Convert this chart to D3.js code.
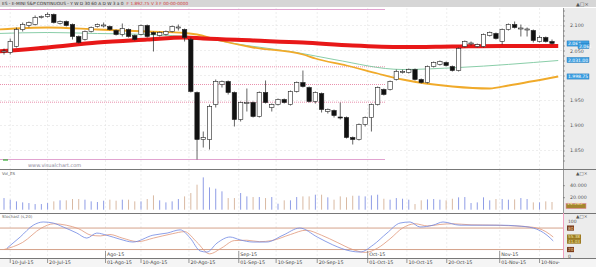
<!DOCTYPE html>
<html>
<head>
<meta charset="utf-8">
<script src="https://cdn.jsdelivr.net/npm/d3@7"></script>
<style>
  body { margin: 0; background: #fff; }
  svg { display: block; font-family: "DejaVu Sans", sans-serif; }
</style>
</head>
<body>
<script>
// daily candles, ES continuous
const open = [2047,2046,2058,2092,2100,2102,2116,2118,2122,2104,
  2108,2102,2078,2072,2088,2098,2100,2098,2090,2082,
  2092,2080,2082,2100,2086,2080,2082,2088,2096,2092,
  2072,1966,1872,1872,1942,1982,1988,1966,1912,1945,
  1946,1918,1966,1936,1942,1952,1942,1968,1986,1976,
  1948,1964,1928,1930,1917,1916,1876,1872,1902,1916,
  1942,1972,1972,1992,2007,2006,2012,1992,1986,2018,
  2022,2026,2018,2010,2058,2064,2058,2058,2080,2084,
  2068,2092,2102,2094,2092,2090,2068,2076,2068];
const close = [2049,2068,2092,2102,2106,2116,2118,2122,2106,2108,
  2100,2078,2066,2088,2096,2102,2101,2092,2082,2094,
  2078,2072,2100,2078,2082,2086,2088,2098,2097,2076,
  1968,1872,1876,1938,1988,1988,1966,1912,1946,1946,
  1918,1966,1946,1942,1952,1946,1968,1986,1978,1948,
  1966,1932,1932,1920,1916,1876,1872,1902,1916,1942,
  1976,1962,1988,2008,2008,2012,1992,1986,2018,2026,
  2028,2020,2010,2054,2068,2065,2062,2082,2086,2074,
  2092,2102,2096,2095,2093,2070,2076,2068,2064];
const high = [2054,2074,2096,2106,2108,2120,2120,2126,2124,2110,
  2110,2104,2080,2090,2098,2104,2106,2100,2092,2104,
  2094,2082,2102,2102,2088,2088,2090,2100,2102,2094,
  2076,1968,1888,1942,1992,1990,1990,1968,1948,1974,
  1948,1968,1990,1944,1954,1954,1970,1988,2010,1978,
  1968,1966,1934,1932,1946,1918,1878,1904,1918,1944,
  1978,1974,1990,2012,2012,2014,2014,1994,2020,2028,
  2030,2028,2020,2056,2070,2068,2064,2084,2088,2086,
  2094,2104,2108,2102,2096,2092,2080,2078,2072];
const low = [2042,2042,2056,2088,2096,2100,2114,2116,2104,2102,
  2098,2072,2064,2070,2086,2096,2096,2090,2080,2078,
  2076,2070,2080,2076,2048,2078,2080,2086,2090,2068,
  1966,1832,1856,1852,1936,1976,1962,1898,1908,1928,
  1916,1916,1944,1928,1940,1944,1940,1966,1976,1946,
  1944,1926,1924,1916,1912,1874,1862,1870,1898,1888,
  1940,1960,1970,1990,2004,2004,1990,1984,1984,2016,
  2020,2018,2008,2008,2056,2060,2056,2056,2078,2072,
  2062,2090,2094,2078,2078,2066,2066,2066,2062];
// volume in contracts
const volume = [19400,16700,13900,12200,11100,9400,9400,11100,13900,15600,
  15600,17800,17800,16700,13900,12800,15000,16700,15000,16700,
  16700,13900,13900,17800,23900,15600,12200,13900,17800,22200,
  27800,41700,53900,37200,35000,30600,19400,19400,27800,22200,
  21100,21100,19400,21100,10000,15600,15600,21100,22200,
  22200,25000,25000,20600,16700,22200,20600,23300,23300,22200,
  23900,25000,18300,16700,19400,18300,16700,9400,15600,17200,
  17800,16700,15600,18300,20600,21100,11100,12200,20600,15600,
  17800,17800,16700,17200,19400,17800,12200,12200,13900,12800].slice(0, 89);

// moving averages: [candle index, price]
const ma200 = [[-1,2048],[7,2056],[15,2066],[23,2072],[29,2076],[32,2074],[40,2070],[48,2066],[56,2060],[64,2057],[72,2058],[80,2059],[89,2059]];
const ma100 = [[-1,2084],[7,2086],[15,2084],[23,2082],[31,2076],[39,2060],[47,2046],[53,2032],[64,2012],[73,2016],[89,2030]];
const ma50  = [[-1,2092],[7,2096],[15,2092],[23,2088],[29,2085],[31,2082],[34,2072],[40,2056],[48,2042],[50,2034],[55,2020],[60,2004],[64,1992],[72,1978],[78,1974],[81,1980],[89,1998]];

// stochastic %K / %D: [candle index, value]
const stochK = [[0.5,24],[2.6,55],[4.7,88],[6.3,97],[7.9,94],[9.5,83],[11.7,66],[13.3,52],[14.9,66],[16.5,60],[18.6,49],[20.7,41],[23.9,60],[26.2,66],[28.3,75],[29.9,52],[31.5,16],[32.6,13],[34.2,38],[36.3,55],[37.9,47],[40,41],[42.2,41],[44.8,60],[47.5,80],[50.3,55],[52.8,33],[55.6,16],[57.2,13],[59.3,33],[61.5,66],[63.6,94],[65.2,97],[66.8,83],[68.9,88],[70.5,97],[73.2,88],[76.9,88],[79.7,88],[82.4,86],[85,80],[87.2,60],[88.2,44]];
const stochD = [[0,20],[3,40],[6,80],[8,92],[10,88],[12,78],[14,60],[15.5,58],[17,62],[19,52],[21.5,42],[24,52],[27,64],[29,70],[31,40],[33,8],[35,25],[37,45],[39,46],[41,42],[43,45],[46,62],[48.5,74],[51,60],[53.5,40],[56,20],[58,12],[60,24],[62,50],[64,80],[66,92],[68,86],[70,90],[72,92],[75,89],[79,88],[82,86],[85,82],[87,70],[88.2,55]];

// fibonacci retracement between the Jul high and the Aug low
const fibHigh = 2132, fibLow = 1832;
const fibLevels = [0.382, 0.5, 0.618];

// date ticks: [candle index, label]
const dayTicks = [[1,"10-Jul-15"],[7,"20-Jul-15"],[16.3,"01-Ago-15"],[22,"10-Ago-15"],[29.7,"20-Ago-15"],[37.7,"01-Sep-15"],[43.7,"10-Sep-15"],[50.3,"20-Sep-15"],[58.4,"01-Oct-15"],[64.7,"10-Oct-15"],[71.1,"20-Oct-15"],[79.6,"01-Nov-15"],[86,"10-Nov-"]];
const monthTicks = [[16.3,"Ago-15"],[37.7,"Sep-15"],[58.4,"Oct-15"],[79.6,"Nov-15"]];
const priceTicks = [1850, 1900, 1950, 2000, 2050, 2100];

const width = 596, height = 267;
const plotRight = 563;
const mainTop = 8, mainBottom = 169;
const volTop = 170, volBottom = 213;
const stTop = 213, stBottom = 258;

const svg = d3.select("body").append("svg")
  .attr("width", width).attr("height", height);

const x = d3.scaleLinear().domain([0, 88]).range([4, 552]);
const y = d3.scaleLinear().domain([1850, 2100]).range([150.5, 25.5]);
const yVol = d3.scaleLinear().domain([0, 40000]).range([209.7, 185.7]);
const ySt = d3.scaleLinear().domain([0, 100]).range([256.7, 220.9]);

// header bar
svg.append("rect").attr("x", 0).attr("y", 0).attr("width", width).attr("height", 7).attr("fill", "#d6d6d6");
const head1 = svg.append("text").attr("x", 2).attr("y", 5.3).attr("font-size", 4.3).attr("fill", "#333")
  .text("ES - E-MINI S&P CONTINUOUS  -  Y  W  D  30  60  A  D  W  3  a  0");
const h1w = head1.node().getComputedTextLength();
svg.append("text").attr("x", 2 + h1w + 3).attr("y", 5.3).attr("font-size", 4.3).attr("fill", "#d04040")
  .text("F  1.892.75  V  3  F  00-00-0000");
svg.append("text").attr("x", 576).attr("y", 5.5).attr("font-size", 5).attr("fill", "#555").text("▲□×");

// axis panels
[[mainTop, mainBottom], [volTop, volBottom], [stTop, stBottom]].forEach(([t, b]) => {
  svg.append("rect").attr("x", plotRight).attr("y", t).attr("width", width - plotRight).attr("height", b - t)
    .attr("fill", "#ececec");
});

// grid in the main panel
const grid = svg.append("g").attr("stroke", "#e2e2e2").attr("stroke-dasharray", "2,2").attr("stroke-width", 0.6);
priceTicks.forEach(p => grid.append("line").attr("x1", 0).attr("x2", plotRight).attr("y1", y(p)).attr("y2", y(p)));
dayTicks.forEach(([i]) => {
  grid.append("line").attr("x1", x(i)).attr("x2", x(i)).attr("y1", mainTop).attr("y2", mainBottom);
  grid.append("line").attr("x1", x(i)).attr("x2", x(i)).attr("y1", volTop).attr("y2", stBottom);
});

// fibonacci lines
const fibEnd = 385;
[fibHigh, fibLow].forEach(p => svg.append("line").attr("x1", 0).attr("x2", fibEnd)
  .attr("y1", y(p)).attr("y2", y(p)).attr("stroke", "#d98cc4").attr("stroke-width", 0.8));
fibLevels.forEach(f => {
  const p = fibLow + (fibHigh - fibLow) * f;
  svg.append("line").attr("x1", 0).attr("x2", fibEnd).attr("y1", y(p)).attr("y2", y(p))
    .attr("stroke", "#e0608a").attr("stroke-width", 0.7).attr("stroke-dasharray", "1,1");
});

// moving averages
svg.append("clipPath").attr("id", "mainclip").append("rect")
  .attr("x", 0).attr("y", mainTop).attr("width", plotRight).attr("height", mainBottom - mainTop);
const maLine = d3.line().x(d => x(d[0])).y(d => y(d[1])).curve(d3.curveMonotoneX);
const maG = svg.append("g").attr("clip-path", "url(#mainclip)").attr("fill", "none");
maG.append("path").attr("d", maLine(ma100)).attr("stroke", "#7cc79e").attr("stroke-width", 0.9);
maG.append("path").attr("d", maLine(ma50)).attr("stroke", "#f0aa2a").attr("stroke-width", 1.8);
maG.append("path").attr("d", maLine(ma200)).attr("stroke", "#e81818").attr("stroke-width", 4);

// candles
const candles = svg.append("g");
open.forEach((o, i) => {
  const c = close[i];
  const up = c >= o;
  candles.append("line").attr("x1", x(i)).attr("x2", x(i))
    .attr("y1", y(high[i])).attr("y2", y(low[i])).attr("stroke", "#222").attr("stroke-width", 0.7);
  candles.append("rect")
    .attr("x", x(i) - 2.2).attr("width", 4.4)
    .attr("y", y(Math.max(o, c))).attr("height", Math.max(1, Math.abs(y(o) - y(c))))
    .attr("fill", up ? "#fff" : "#111").attr("stroke", "#222").attr("stroke-width", 0.6);
});

// watermark
svg.append("text").attr("x", 28).attr("y", 166.5).attr("font-size", 5).attr("fill", "#8a8a9a")
  .text("www.visualchart.com");
svg.append("line").attr("x1", 3).attr("x2", 8).attr("y1", 160).attr("y2", 160).attr("stroke", "#3a3").attr("stroke-width", 1.2);

// price axis
const pAxis = svg.append("g").attr("transform", "translate(" + plotRight + ",0)")
  .call(d3.axisRight(y).tickValues(d3.range(1830, 2131, 10)).tickSize(2).tickFormat(""));
pAxis.select(".domain").remove();
pAxis.selectAll("line").attr("stroke", "#666").attr("stroke-width", 0.6);
priceTicks.filter(p => p !== 2000 && p !== 2050).forEach(p => {
  svg.append("text").attr("x", 570).attr("y", y(p) + 1.7).attr("font-size", 4.8).attr("fill", "#555")
    .text((p / 1000).toFixed(3));
});
svg.append("text").attr("x", 570).attr("y", y(2050) + 2.5).attr("font-size", 4.8).attr("fill", "#555").text("2.050");

// value boxes on the price axis
const boxes = [[2064, "2.064"], [2059, "2.061"], [2031, "2.031.00"], [1998, "1.998.75"]];
boxes.forEach(([p, t], k) => {
  const bx = k === 1 ? 578 : 567;
  svg.append("rect").attr("x", bx).attr("y", y(p) - 2.6).attr("width", k === 1 ? 11 : 22).attr("height", 5.2)
    .attr("fill", "#3d9fe2").attr("stroke", "#1c6fb0").attr("stroke-width", 0.4);
  svg.append("text").attr("x", bx + 1).attr("y", y(p) + 1.7).attr("font-size", 4.5).attr("fill", "#fff").text(t);
});

// panel borders
[mainBottom, volBottom, stBottom].forEach(b => svg.append("line").attr("x1", 0).attr("x2", width)
  .attr("y1", b + 0.5).attr("y2", b + 0.5).attr("stroke", "#555").attr("stroke-width", 0.8));
svg.append("line").attr("x1", plotRight + 0.5).attr("x2", plotRight + 0.5).attr("y1", mainTop).attr("y2", stBottom)
  .attr("stroke", "#777").attr("stroke-width", 0.7);

// volume
svg.append("text").attr("x", 2).attr("y", volTop + 4.5).attr("font-size", 4).attr("fill", "#666").text("Vol_ES");
volume.forEach((v, i) => {
  svg.append("line").attr("x1", x(i)).attr("x2", x(i)).attr("y1", yVol(0)).attr("y2", yVol(v))
    .attr("stroke", close[i] >= open[i] ? "#8f9de6" : "#d9b9a2").attr("stroke-width", 1);
});
[[40000, "40.000"], [20000, "20.000"]].forEach(([v, t]) => {
  svg.append("line").attr("x1", plotRight).attr("x2", plotRight + 2).attr("y1", yVol(v)).attr("y2", yVol(v)).attr("stroke", "#666").attr("stroke-width", 0.6);
  svg.append("text").attr("x", 570).attr("y", yVol(v) + 1.7).attr("font-size", 4.8).attr("fill", "#555").text(t);
});
svg.append("rect").attr("x", 566).attr("y", yVol(volume[volume.length - 1]) - 2.6 + 4).attr("width", 20).attr("height", 5.2)
  .attr("fill", "#a3862e").attr("stroke", "#e68aa6").attr("stroke-width", 0.6);
svg.append("text").attr("x", 567).attr("y", yVol(volume[volume.length - 1]) + 3.1).attr("font-size", 4.5).attr("fill", "#f6e9a8").text("14.262");
svg.append("text").attr("x", 576).attr("y", volTop + 5).attr("font-size", 4.5).attr("fill", "#555").text("▲□×");

// stochastic
svg.append("text").attr("x", 2).attr("y", stTop + 5).attr("font-size", 4).attr("fill", "#666").text("Stochast (s,20)");
[80, 20].forEach(v => svg.append("line").attr("x1", 0).attr("x2", plotRight).attr("y1", ySt(v)).attr("y2", ySt(v))
  .attr("stroke", "#c98a6c").attr("stroke-width", 0.8));
const stLine = d3.line().x(d => x(d[0])).y(d => ySt(d[1])).curve(d3.curveMonotoneX);
svg.append("path").attr("d", stLine(stochD)).attr("fill", "none").attr("stroke", "#e0977a").attr("stroke-width", 0.8);
svg.append("path").attr("d", stLine(stochK)).attr("fill", "none").attr("stroke", "#6f86e2").attr("stroke-width", 0.8);
svg.append("line").attr("x1", plotRight + 0.5).attr("x2", plotRight + 0.5).attr("y1", stTop).attr("y2", stBottom)
  .attr("stroke", "#f0a0c0").attr("stroke-width", 1);
[[100, "100"], [0, "0"]].forEach(([v, t]) => svg.append("text").attr("x", 568).attr("y", ySt(v) + 1.7)
  .attr("font-size", 4.5).attr("fill", "#555").text(t));
[[80, "80"], [20, "20"]].forEach(([v, t]) => {
  svg.append("rect").attr("x", 567).attr("y", ySt(v) - 2.6).attr("width", 7).attr("height", 5.2).attr("fill", "#7a3d1e");
  svg.append("text").attr("x", 568).attr("y", ySt(v) + 1.7).attr("font-size", 4.3).attr("fill", "#f3d9a0").text(t);
});
[[stochD[stochD.length - 1][1], "55.38"], [stochK[stochK.length - 1][1], "41.03"]].forEach(([v, t], k) => {
  svg.append("rect").attr("x", 567).attr("y", 234.5 + k * 4.6).attr("width", 14).attr("height", 4.6).attr("fill", "#9a7a22");
  svg.append("text").attr("x", 568).attr("y", 238.2 + k * 4.6).attr("font-size", 4.2).attr("fill", "#f6e9a8").text(t);
});
svg.append("text").attr("x", 576).attr("y", stTop + 4.5).attr("font-size", 4.5).attr("fill", "#555").text("▲□×");

// date axis
svg.append("rect").attr("x", 0).attr("y", stBottom + 1).attr("width", width).attr("height", height - stBottom - 1).attr("fill", "#f5f5f5");
dayTicks.forEach(([i, t]) => {
  svg.append("line").attr("x1", x(i)).attr("x2", x(i)).attr("y1", stBottom + 1).attr("y2", stBottom + 5)
    .attr("stroke", "#555").attr("stroke-width", 0.6);
  svg.append("text").attr("x", x(i) + 1.5).attr("y", stBottom + 6).attr("font-size", 4.8).attr("fill", "#444").text(t);
});
monthTicks.forEach(([i, t]) => {
  svg.append("line").attr("x1", x(i)).attr("x2", x(i)).attr("y1", stBottom - 7).attr("y2", stBottom)
    .attr("stroke", "#555").attr("stroke-width", 0.6);
  svg.append("text").attr("x", x(i) + 1.5).attr("y", stBottom - 2.5).attr("font-size", 4.8).attr("fill", "#444").text(t);
});
</script>
</body>
</html>
